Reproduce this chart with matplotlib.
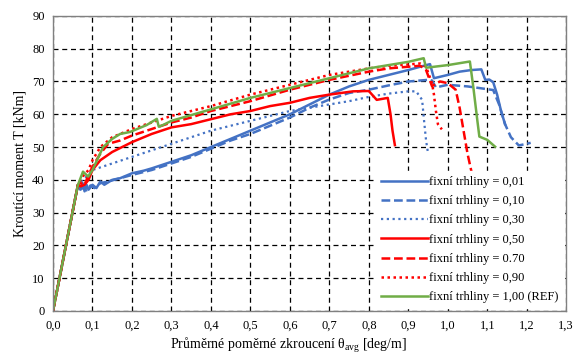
import matplotlib.pyplot as plt
import numpy as np

plt.rcParams['font.family'] = ['Liberation Serif', 'DejaVu Serif']
plt.rcParams['mathtext.fontset'] = 'custom'
plt.rcParams['mathtext.rm'] = 'Liberation Serif'

# theta_avg [deg/m] vs T [kNm], one curve per fixed crack factor
x001 = [0.0, 0.063, 0.07, 0.075, 0.08, 0.085, 0.09, 0.1, 0.11, 0.12, 0.13, 0.15, 0.17, 0.2, 0.23, 0.25, 0.3,
        0.35, 0.4, 0.45, 0.5, 0.55, 0.6, 0.65, 0.7, 0.75, 0.8, 0.85, 0.9, 0.93, 0.955, 0.965, 1.0, 1.03, 1.06,
        1.085, 1.095, 1.105, 1.115, 1.125, 1.135, 1.145]
y001 = [0.0, 38.4, 37.0, 39.0, 36.5, 38.5, 37.0, 38.5, 37.5, 39.5, 38.5, 40.0, 40.5, 42.0, 42.8, 43.5, 45.5,
        47.5, 50.0, 52.5, 55.0, 57.5, 60.0, 63.0, 66.0, 68.5, 70.5, 72.0, 73.5, 74.5, 75.3, 71.0, 72.0, 73.0, 73.5,
        73.7, 70.5, 70.6, 69.8, 66.0, 61.0, 57.0]

x010 = [0.0, 0.063, 0.07, 0.078, 0.085, 0.095, 0.105, 0.12, 0.14, 0.17, 0.2, 0.25, 0.3, 0.35, 0.4, 0.45, 0.5,
        0.55, 0.6, 0.65, 0.7, 0.75, 0.8, 0.85, 0.9, 0.95, 0.96, 0.97, 1.0, 1.05, 1.08, 1.115, 1.13, 1.145,
        1.16, 1.18, 1.2, 1.21]
y010 = [0.0, 38.4, 36.5, 38.0, 36.8, 38.3, 37.5, 39.0, 39.5, 40.5, 41.5, 43.0, 45.0, 47.0, 49.5, 52.0, 54.0,
        56.5, 59.0, 62.0, 64.5, 66.5, 67.5, 68.8, 70.0, 70.5, 70.3, 68.2, 69.0, 68.5, 68.0, 67.4, 63.0, 57.0,
        53.0, 50.5, 51.0, 51.3]

x030 = [0.0, 0.063, 0.075, 0.09, 0.1, 0.15, 0.2, 0.25, 0.3, 0.4, 0.5, 0.6, 0.7, 0.75, 0.8, 0.85, 0.9,
        0.92, 0.935, 0.94, 0.945, 0.95]
y030 = [0.0, 38.4, 40.0, 41.5, 43.0, 45.0, 47.0, 49.0, 51.0, 55.0, 58.0, 61.0, 63.0, 64.0, 65.3, 66.3, 67.0,
        67.0, 64.4, 58.0, 52.0, 48.1]

x050 = [0.0, 0.063, 0.07, 0.08, 0.09, 0.1, 0.12, 0.15, 0.2, 0.25, 0.3, 0.35, 0.4, 0.45, 0.5, 0.55, 0.6, 0.65,
        0.7, 0.76, 0.8, 0.82, 0.848, 0.855, 0.86, 0.866]
y050 = [0.0, 38.4, 38.0, 38.5, 40.0, 43.0, 46.0, 48.5, 51.5, 54.0, 56.0, 57.0, 58.5, 60.0, 61.0, 62.5, 63.5, 65.0,
        66.0, 67.0, 67.1, 64.4, 65.0, 60.0, 55.0, 50.6]

x070 = [0.0, 0.063, 0.07, 0.08, 0.09, 0.1, 0.12, 0.14, 0.17, 0.2, 0.25, 0.3, 0.35, 0.4, 0.5, 0.6, 0.7,
        0.8, 0.85, 0.9, 0.93, 0.945, 0.96, 0.98, 1.0, 1.02, 1.03, 1.04, 1.05, 1.06]
y070 = [0.0, 38.4, 39.0, 38.5, 41.5, 44.0, 48.0, 51.0, 52.0, 53.5, 55.5, 57.5, 59.0, 61.0, 64.0, 67.5, 70.5,
        73.0, 74.0, 74.5, 74.8, 73.5, 68.6, 70.0, 69.5, 67.5, 62.0, 55.0, 48.0, 42.5]

x090 = [0.0, 0.063, 0.075, 0.09, 0.1, 0.12, 0.15, 0.2, 0.25, 0.3, 0.4, 0.5, 0.6, 0.7, 0.8, 0.85, 0.9, 0.93,
        0.945, 0.96, 0.965, 0.97, 0.975, 0.985]
y090 = [0.0, 38.4, 41.0, 43.0, 46.0, 50.0, 53.0, 55.5, 57.5, 59.5, 62.5, 66.0, 69.0, 72.0, 74.0, 74.8, 75.2, 75.5,
        74.5, 69.5, 66.0, 61.0, 57.0, 55.4]

x100 = [0.0, 0.063, 0.076, 0.089, 0.1, 0.127, 0.15, 0.17, 0.195, 0.237, 0.263, 0.268, 0.28, 0.3, 0.4, 0.5,
        0.6, 0.7, 0.8, 0.85, 0.9, 0.939, 0.945, 1.0, 1.056, 1.065, 1.075, 1.08, 1.1, 1.12]
y100 = [0.0, 38.4, 42.5, 41.0, 43.0, 50.0, 52.5, 54.0, 54.6, 56.7, 58.6, 56.2, 56.8, 58.0, 61.5, 65.0,
        68.0, 71.0, 74.0, 75.0, 76.0, 77.1, 74.2, 75.0, 76.1, 68.0, 58.0, 53.2, 52.2, 50.1]

labels = ['fixní trhliny = 0,01', 'fixní trhliny = 0,10', 'fixní trhliny = 0,30', 'fixní trhliny = 0,50',
          'fixní trhliny = 0.70', 'fixní trhliny = 0,90', 'fixní trhliny = 1,00 (REF)']

blue = '#4472C4'
red = '#FF0000'
green = '#70AD47'

fig = plt.figure(figsize=(5.76, 3.54), dpi=100)
ax = fig.add_axes([0.092, 0.1215, 0.891, 0.8335])

ax.plot(x001, y001, color=blue, lw=1.8, ls='-', label=labels[0])
ax.plot(x010, y010, color=blue, lw=1.8, ls=(0, (3.5, 1.5)), label=labels[1])
ax.plot(x030, y030, color=blue, lw=1.6, ls=(0, (1, 1.6)), label=labels[2])
ax.plot(x050, y050, color=red, lw=1.8, ls='-', label=labels[3])
ax.plot(x070, y070, color=red, lw=1.8, ls=(0, (3.5, 1.5)), label=labels[4])
ax.plot(x090, y090, color=red, lw=1.8, ls=(0, (1, 1.4)), label=labels[5])
ax.plot(x100, y100, color=green, lw=1.8, ls='-', label=labels[6])

ax.set_xlim(0, 1.3)
ax.set_ylim(0, 90)
xt = np.arange(0, 14) / 10
ax.set_xticks(xt)
ax.set_xticklabels([('%.1f' % v).replace('.', ',') for v in xt])
ax.set_yticks(np.arange(0, 91, 10))
ax.tick_params(labelsize=9, length=0, pad=6)
ax.grid(True, color='black', ls=(0, (4, 3)), lw=0.9)
for s in ax.spines.values():
    s.set_color('#808080')
    s.set_linewidth(1.0)

ax.set_xlabel('Průměrné poměrné zkroucení θ$_\\mathrm{avg}$ [deg/m]', fontsize=10, labelpad=3)
ax.xaxis.set_label_coords(0.46, -0.085)
ax.set_ylabel('Kroutící moment T [kNm]', fontsize=10, labelpad=4)

leg = ax.legend(loc='lower right', fontsize=9, frameon=True, framealpha=1, facecolor='white',
                edgecolor='white', fancybox=False, borderaxespad=0.2, handlelength=3.8,
                handletextpad=0.1, labelspacing=0.58)

fig.savefig('out.png', dpi=100)
